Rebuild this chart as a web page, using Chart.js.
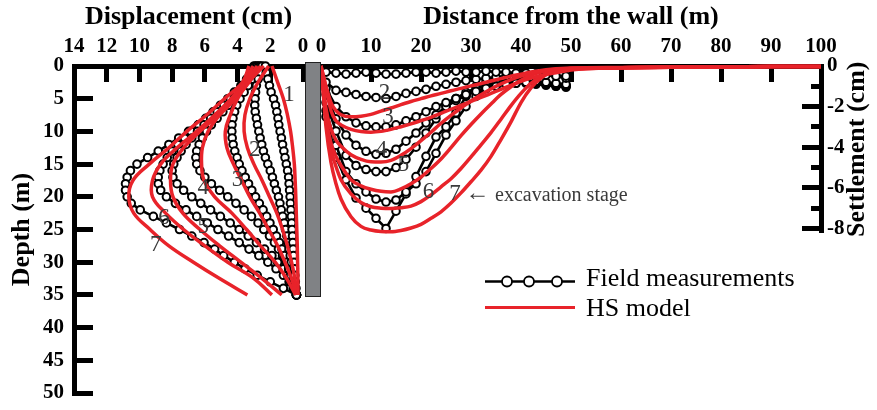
<!DOCTYPE html>
<html>
<head>
<meta charset="utf-8">
<script src="https://cdn.jsdelivr.net/npm/chart.js@4.4.1/dist/chart.umd.min.js"></script>
<style>
  html, body { margin: 0; padding: 0; background: #fff; }
  #wrap { position: relative; width: 877px; height: 410px; overflow: hidden; }
  #wrap canvas { position: absolute; left: 0; top: 0; }
  #wall { position: absolute; left: 305px; top: 62px; width: 14px; height: 233px; background: #808285; border: 1px solid #222; }
</style>
</head>
<body>
<div id="wrap">
  <canvas id="wallChart" width="877" height="410"></canvas>
  <canvas id="groundChart" width="877" height="410"></canvas>
  <div id="wall"></div>
</div>
<script>
// ---- wall displacement (left panel) ----
const dispTicks = [14, 12, 10, 8, 6, 4, 2, 0];
const depthTicks = [0, 5, 10, 15, 20, 25, 30, 35, 40, 45, 50];

const fieldDepth = [0, 1, 2, 3, 4, 5, 6, 7, 8, 9, 10, 11, 12, 13, 14, 15, 16, 17,
  18, 19, 20, 21, 22, 23, 24, 25, 26, 27, 28, 29, 30, 31, 32, 33, 34, 35];
const fieldDisp1 = [2.3, 2.25, 2.15, 2.05, 1.95, 1.8, 1.68, 1.6, 1.53, 1.48, 1.4, 1.32, 1.25, 1.17, 1.1, 1.02, 0.94, 0.88,
  0.85, 0.82, 0.79, 0.77, 0.74, 0.71, 0.69, 0.67, 0.64, 0.62, 0.6, 0.58, 0.55, 0.53, 0.5, 0.47, 0.43, 0.4];
const fieldDisp2 = [2.5, 2.62, 2.74, 2.85, 2.9, 2.93, 2.95, 2.92, 2.85, 2.78, 2.7, 2.62, 2.52, 2.42, 2.3, 2.15, 2.0, 1.87,
  1.75, 1.63, 1.5, 1.41, 1.33, 1.24, 1.15, 1.07, 0.99, 0.92, 0.85, 0.78, 0.72, 0.66, 0.6, 0.54, 0.47, 0.4];
const fieldDisp3 = [2.6, 2.85, 3.1, 3.35, 3.6, 3.85, 4.05, 4.18, 4.28, 4.34, 4.35, 4.33, 4.27, 4.17, 4.03, 3.9, 3.73, 3.53,
  3.33, 3.13, 2.9, 2.67, 2.44, 2.22, 2.02, 1.82, 1.62, 1.44, 1.29, 1.14, 1.0, 0.87, 0.76, 0.65, 0.53, 0.4];
const fieldDisp4 = [2.7, 2.95, 3.25, 3.55, 3.85, 4.2, 4.55, 4.9, 5.25, 5.6, 5.9, 6.15, 6.35, 6.5, 6.55, 6.5, 6.3, 6.0,
  5.6, 5.1, 4.6, 4.1, 3.6, 3.15, 2.75, 2.4, 2.05, 1.75, 1.5, 1.25, 1.05, 0.88, 0.74, 0.62, 0.5, 0.4];
const fieldDisp5 = [2.8, 3.05, 3.35, 3.7, 4.05, 4.45, 4.85, 5.25, 5.65, 6.05, 6.45, 6.8, 7.15, 7.45, 7.7, 7.9, 8.0, 7.95,
  7.7, 7.3, 6.8, 6.25, 5.65, 5.05, 4.45, 3.9, 3.35, 2.85, 2.35, 1.9, 1.55, 1.2, 0.95, 0.75, 0.55, 0.4];
const fieldDisp6 = [2.9, 3.15, 3.45, 3.8, 4.2, 4.6, 5.05, 5.5, 5.95, 6.4, 6.85, 7.25, 7.65, 8.0, 8.3, 8.55, 8.75, 8.85,
  8.85, 8.7, 8.35, 7.8, 7.15, 6.5, 5.85, 5.2, 4.55, 3.9, 3.3, 2.7, 2.15, 1.65, 1.2, 0.85, 0.6, 0.4];
const fieldDisp7 = [3.0, 3.2, 3.4, 3.6, 3.9, 4.4, 4.9, 5.4, 5.85, 6.4, 7.0, 7.6, 8.2, 8.85, 9.5, 10.15, 10.55, 10.75,
  10.85, 10.85, 10.75, 10.5, 9.95, 9.15, 8.35, 7.55, 6.8, 6.05, 5.4, 4.85, 4.2, 3.55, 2.8, 2.0, 1.2, 0.4];

const modelDepth = [0, 2.5, 5, 7.5, 10, 12.5, 15, 17.5, 20, 22.5, 25, 27.5, 30, 32.5, 35];
const modelDisp1 = [1.9, 1.55, 1.2, 0.95, 0.76, 0.63, 0.53, 0.48, 0.44, 0.41, 0.38, 0.35, 0.33, 0.31, 0.3];
const modelDisp2 = [2.1, 2.75, 3.25, 3.55, 3.6, 3.4, 3.0, 2.5, 2.05, 1.6, 1.25, 0.95, 0.7, 0.5, 0.4];
const modelDisp3 = [2.4, 3.35, 4.0, 4.45, 4.75, 4.65, 4.25, 3.75, 3.25, 2.65, 2.1, 1.55, 1.1, 0.7, 0.4];
const modelDisp4 = [2.6, 3.3, 4.1, 5.1, 5.8, 6.15, 6.2, 6.05, 5.4, 4.35, 3.45, 2.6, 1.7, 1.0, 0.45];
const modelDisp5 = [2.8, 3.5, 4.3, 5.2, 6.3, 7.3, 7.95, 8.1, 7.95, 7.35, 6.3, 5.1, 3.8, 2.5, 1.3];
const modelDisp6 = [3.05, 3.6, 4.4, 5.4, 6.5, 7.7, 8.7, 9.2, 9.2, 8.4, 7.3, 6.0, 4.6, 3.0, 1.9];
const modelDisp7 = [3.3, 3.7, 4.8, 5.9, 7.1, 8.2, 9.4, 10.4, 10.65, 10.35, 9.35, 8.2, 6.7, 5.1, 3.4];

const leftLabelText = ['1', '2', '3', '4', '5', '6', '7'];
const leftLabelDisp = [0.85, 2.95, 4.0, 6.1, 6.1, 8.5, 9.0];
const leftLabelDepth = [4.4, 12.8, 17.4, 18.7, 24.6, 23.2, 27.4];

// ---- ground settlement (right panel) ----
const distTicks = [0, 10, 20, 30, 40, 50, 60, 70, 80, 90, 100];
const settleTicks = [0, -2, -4, -6, -8];
const settleMinorTicks = [-1, -3, -5, -7];

const fieldDist = [1, 3, 5, 7, 9, 11, 13, 15, 17, 19, 21, 23, 25, 27, 29, 31, 33, 35, 37, 39, 41, 43, 45, 47, 49];
const fieldSettle1 = [-0.3, -0.35, -0.4, -0.35, -0.3, -0.35, -0.4, -0.4, -0.35, -0.3, -0.3, -0.35, -0.3,
  -0.25, -0.3, -0.3, -0.25, -0.3, -0.3, -0.35, -0.35, -0.4, -0.45, -0.5, -0.5];
const fieldSettle2 = [-0.8, -1.2, -1.3, -1.4, -1.5, -1.55, -1.6, -1.5, -1.35, -1.25, -1.15, -1.0, -0.9,
  -0.8, -0.72, -0.65, -0.6, -0.55, -0.5, -0.45, -0.42, -0.4, -0.42, -0.5, -0.6];
const fieldSettle3 = [-1.1, -2.0, -2.5, -2.8, -2.95, -3.0, -3.0, -2.9, -2.7, -2.5, -2.25, -2.0, -1.8,
  -1.6, -1.4, -1.25, -1.1, -1.0, -0.9, -0.85, -0.8, -0.75, -0.8, -0.85, -0.9];
const fieldSettle4 = [-1.4, -2.6, -3.4, -3.9, -4.2, -4.35, -4.3, -4.1, -3.7, -3.3, -2.8, -2.4, -2.0,
  -1.7, -1.45, -1.25, -1.1, -1.0, -0.9, -0.85, -0.8, -0.8, -0.85, -0.9, -0.95];
const fieldSettle5 = [-1.8, -3.2, -4.4, -4.9, -5.1, -5.2, -5.2, -5.0, -4.6, -4.0, -3.3, -2.6, -2.0,
  -1.6, -1.3, -1.1, -0.95, -0.85, -0.8, -0.8, -0.8, -0.85, -0.9, -0.95, -1.0];
const fieldSettle6 = [-2.2, -3.9, -5.2, -5.8, -6.2, -6.55, -6.7, -6.6, -6.2, -5.8, -5.2, -4.3, -3.4,
  -2.7, -2.0, -1.5, -1.1, -0.9, -0.8, -0.8, -0.85, -0.9, -0.95, -1.0, -1.0];
const fieldSettle7 = [-2.5, -4.5, -5.6, -6.5, -7.0, -7.5, -8.0, -7.15, -6.3, -5.45, -4.45, -3.5, -3.0,
  -2.3, -1.5, -1.0, -0.75, -0.7, -0.7, -0.75, -0.8, -0.85, -0.9, -1.0, -1.05];

const modelDist = [0, 0.5, 1, 2, 3, 4, 6, 8, 10, 12, 14, 16, 18, 20, 22, 24, 26, 28, 30, 32, 34, 36,
  38, 40, 42, 44, 46, 48, 50, 60, 70, 80, 90, 100];
const modelSettle2 = [0, -0.5, -1.0, -1.8, -2.2, -2.4, -2.5, -2.47, -2.38, -2.22, -2.07, -1.9, -1.75, -1.61,
  -1.47, -1.35, -1.22, -1.1, -0.98, -0.86, -0.74, -0.62, -0.5, -0.4, -0.3, -0.22, -0.16, -0.12, -0.1,
  -0.07, -0.05, -0.04, -0.03, -0.02];
const modelSettle3 = [0, -0.55, -1.1, -2.2, -2.7, -2.9, -3.12, -3.23, -3.26, -3.22, -3.12, -2.99, -2.85, -2.69,
  -2.53, -2.33, -2.13, -1.94, -1.74, -1.55, -1.35, -1.15, -0.95, -0.76, -0.6, -0.47, -0.37, -0.28, -0.2,
  -0.09, -0.06, -0.05, -0.03, -0.02];
const modelSettle4 = [0, -1.0, -2.1, -3.1, -3.65, -3.95, -4.37, -4.6, -4.72, -4.73, -4.65, -4.4, -4.07, -3.68,
  -3.26, -2.82, -2.43, -2.07, -1.72, -1.41, -1.13, -0.88, -0.67, -0.5, -0.36, -0.26, -0.19, -0.15, -0.12,
  -0.09, -0.06, -0.05, -0.03, -0.02];
const modelSettle5 = [0, -1.2, -2.5, -3.8, -4.45, -4.9, -5.6, -5.9, -6.07, -6.17, -6.2, -6.05, -5.8, -5.47,
  -5.05, -4.58, -4.02, -3.43, -2.88, -2.36, -1.87, -1.4, -1.02, -0.7, -0.46, -0.3, -0.2, -0.15, -0.12,
  -0.09, -0.06, -0.05, -0.03, -0.02];
const modelSettle6 = [0, -1.3, -2.7, -4.1, -4.95, -5.6, -6.3, -6.72, -6.93, -7.0, -7.02, -6.98, -6.9, -6.68,
  -6.35, -5.95, -5.55, -5.05, -4.48, -3.88, -3.28, -2.62, -1.95, -1.35, -0.85, -0.52, -0.3, -0.2, -0.15,
  -0.09, -0.06, -0.05, -0.03, -0.02];
const modelSettle7 = [0, -1.5, -3.0, -4.75, -5.8, -6.55, -7.42, -7.9, -8.08, -8.15, -8.16, -8.1, -7.98, -7.8,
  -7.5, -7.18, -6.75, -6.25, -5.7, -5.13, -4.45, -3.62, -2.75, -1.8, -1.08, -0.6, -0.32, -0.18, -0.12,
  -0.09, -0.06, -0.05, -0.03, -0.02];

const rightLabelText = ['2', '3', '4', '5', '6', '7'];
const rightLabelDist = [12.7, 13.4, 12.1, 16.5, 21.5, 26.8];
const rightLabelSettle = [-1.35, -2.49, -4.14, -4.88, -6.19, -6.3];

const RED = '#e8232a';
const SERIF = '"Liberation Serif", "Times New Roman", serif';
const tickFont = { family: SERIF, size: 21, weight: 'bold' };
const titleFont = { family: SERIF, size: 26, weight: 'bold' };

const fieldDispStages = [fieldDisp1, fieldDisp2, fieldDisp3, fieldDisp4, fieldDisp5, fieldDisp6, fieldDisp7];
const modelDispStages = [modelDisp1, modelDisp2, modelDisp3, modelDisp4, modelDisp5, modelDisp6, modelDisp7];
const fieldSettleStages = [fieldSettle1, fieldSettle2, fieldSettle3, fieldSettle4, fieldSettle5, fieldSettle6, fieldSettle7];
const modelSettleStages = [modelSettle2, modelSettle3, modelSettle4, modelSettle5, modelSettle6, modelSettle7];

function redSet(points) {
    return { data: points, showLine: true, borderColor: RED, borderWidth: 3.5, pointRadius: 0,
        tension: 0.4, order: 0, clip: false };
}

function blackSet(points) {
    return { data: points, showLine: true, borderColor: '#000', borderWidth: 2.6, pointRadius: 3.8,
        pointBorderWidth: 2, pointBorderColor: '#000', pointBackgroundColor: '#fff', order: 1, clip: false };
}

function axisGrid(len) {
    return { display: true, drawOnChartArea: false, drawTicks: true, tickLength: len, tickWidth: 5, tickColor: '#000' };
}

// fixed box size, and no extra room kept for the end labels
function fixBox(width, height) {
    return (s) => {
        if (width !== null) s.width = width;
        if (height !== null) s.height = height;
        s.paddingTop = 0;
        s.paddingBottom = 0;
        s.paddingLeft = 0;
        s.paddingRight = 0;
    };
}

const leftDatasets = [];
modelDispStages.forEach((d) => leftDatasets.push(redSet(modelDepth.map((z, k) => ({ x: d[k], y: z })))));
fieldDispStages.forEach((d) => leftDatasets.push(blackSet(fieldDepth.map((z, k) => ({ x: d[k], y: z })))));

const rightDatasets = [];
modelSettleStages.forEach((s) => {
    const set = redSet(modelDist.map((x, k) => ({ x: x, y: s[k] })));
    set.tension = 0;
    set.cubicInterpolationMode = 'monotone';
    rightDatasets.push(set);
});
fieldSettleStages.forEach((s) => rightDatasets.push(blackSet(fieldDist.map((x, k) => ({ x: x, y: s[k] })))));

const leftNotes = {
    id: 'leftNotes',
    afterDatasetsDraw(chart) {
        const { ctx, scales } = chart;
        ctx.save();
        ctx.font = '23px ' + SERIF;
        ctx.fillStyle = '#3a3a3a';
        ctx.textAlign = 'center';
        ctx.textBaseline = 'middle';
        leftLabelText.forEach((t, i) => {
            ctx.fillText(t, scales.x.getPixelForValue(leftLabelDisp[i]), scales.y.getPixelForValue(leftLabelDepth[i]));
        });
        ctx.restore();
    }
};

const rightNotes = {
    id: 'rightNotes',
    afterDraw(chart) {
        const { ctx, scales } = chart;
        const sx = scales.x, sy = scales.y;
        ctx.save();
        ctx.fillStyle = '#3a3a3a';
        ctx.textBaseline = 'middle';
        ctx.textAlign = 'center';
        ctx.font = '23px ' + SERIF;
        rightLabelText.forEach((t, i) => {
            ctx.fillText(t, sx.getPixelForValue(rightLabelDist[i]), sy.getPixelForValue(rightLabelSettle[i]));
        });
        ctx.font = '24px ' + SERIF;
        ctx.fillText('\u2190', sx.getPixelForValue(31.3), sy.getPixelForValue(-6.3));
        ctx.textAlign = 'left';
        ctx.font = '20px ' + SERIF;
        ctx.fillText('excavation stage', sx.getPixelForValue(34.8), sy.getPixelForValue(-6.38));

        // y title, reading bottom to top
        ctx.save();
        ctx.translate(857, (sy.top + sy.bottom) / 2);
        ctx.rotate(-Math.PI / 2);
        ctx.textAlign = 'center';
        ctx.fillStyle = '#000';
        ctx.font = 'bold 26px ' + SERIF;
        ctx.fillText('Settlement (cm)', 0, 0);
        ctx.restore();

        // legend
        ctx.fillStyle = '#000';
        ctx.font = '26px ' + SERIF;
        ctx.textAlign = 'left';
        ctx.fillText('Field measurements', 586, 279);
        ctx.fillText('HS model', 586, 309.5);
        ctx.strokeStyle = '#000';
        ctx.lineWidth = 2.5;
        ctx.beginPath();
        ctx.moveTo(485, 281.5);
        ctx.lineTo(575, 281.5);
        ctx.stroke();
        ctx.lineWidth = 1.8;
        [507, 529, 557].forEach((cx) => {
            ctx.beginPath();
            ctx.arc(cx, 281.5, 5, 0, Math.PI * 2);
            ctx.fillStyle = '#fff';
            ctx.fill();
            ctx.stroke();
        });
        ctx.strokeStyle = RED;
        ctx.lineWidth = 3;
        ctx.beginPath();
        ctx.moveTo(485, 307.5);
        ctx.lineTo(575, 307.5);
        ctx.stroke();
        ctx.restore();
    }
};

new Chart(document.getElementById('wallChart'), {
    type: 'scatter',
    data: { datasets: leftDatasets },
    plugins: [leftNotes],
    options: {
        responsive: false,
        animation: false,
        events: [],
        layout: { padding: { left: 0, top: 0, right: 574, bottom: 17 } },
        plugins: { legend: { display: false }, tooltip: { enabled: false } },
        scales: {
            x: {
                type: 'linear', position: 'top', reverse: true, min: 0, max: 14,
                afterBuildTicks: (s) => { s.ticks = dispTicks.map((v) => ({ value: v })); },
                afterFit: fixBox(null, 66),
                border: { display: true, color: '#000', width: 5 },
                grid: axisGrid(-16),
                ticks: { autoSkip: false, maxRotation: 0, padding: 23, color: '#000', font: tickFont },
                title: { display: true, text: 'Displacement (cm)', color: '#000', font: titleFont, padding: { top: 2, bottom: 0 } }
            },
            y: {
                type: 'linear', position: 'left', reverse: true, min: 0, max: 50,
                afterBuildTicks: (s) => { s.ticks = depthTicks.map((v) => ({ value: v })); },
                afterFit: fixBox(74, null),
                border: { display: true, color: '#000', width: 5 },
                grid: axisGrid(-19),
                ticks: { autoSkip: false, padding: 29, color: '#000', font: tickFont },
                title: { display: true, text: 'Depth (m)', color: '#000', font: titleFont, padding: { top: 7, bottom: 0 } }
            }
        }
    }
});

new Chart(document.getElementById('groundChart'), {
    type: 'scatter',
    data: { datasets: rightDatasets },
    plugins: [rightNotes],
    options: {
        responsive: false,
        animation: false,
        events: [],
        layout: { padding: { left: 321, top: 0, right: 0, bottom: 177.5 } },
        plugins: { legend: { display: false }, tooltip: { enabled: false } },
        scales: {
            x: {
                type: 'linear', position: 'top', min: 0, max: 100,
                afterBuildTicks: (s) => { s.ticks = distTicks.map((v) => ({ value: v })); },
                afterFit: fixBox(null, 66),
                border: { display: true, color: '#000', width: 5 },
                grid: axisGrid(-16),
                ticks: { autoSkip: false, maxRotation: 0, padding: 23, color: '#000', font: tickFont },
                title: { display: true, text: 'Distance from the wall (m)', color: '#000', font: titleFont, padding: { top: 2, bottom: 0 } }
            },
            y: {
                type: 'linear', position: 'right', min: -8.2, max: 0,
                afterBuildTicks: (s) => { s.ticks = settleTicks.map((v) => ({ value: v })); },
                afterFit: fixBox(56, null),
                border: { display: true, color: '#000', width: 5 },
                grid: axisGrid(-19),
                ticks: { autoSkip: false, padding: 25, color: '#000', font: tickFont }
            },
            yMinor: {
                type: 'linear', axis: 'y', position: { x: 100 }, min: -8.2, max: 0,
                afterBuildTicks: (s) => { s.ticks = settleMinorTicks.map((v) => ({ value: v })); },
                afterFit: fixBox(0, null),
                border: { display: false },
                grid: axisGrid(10),
                ticks: { display: false }
            }
        }
    }
});
</script>
</body>
</html>
